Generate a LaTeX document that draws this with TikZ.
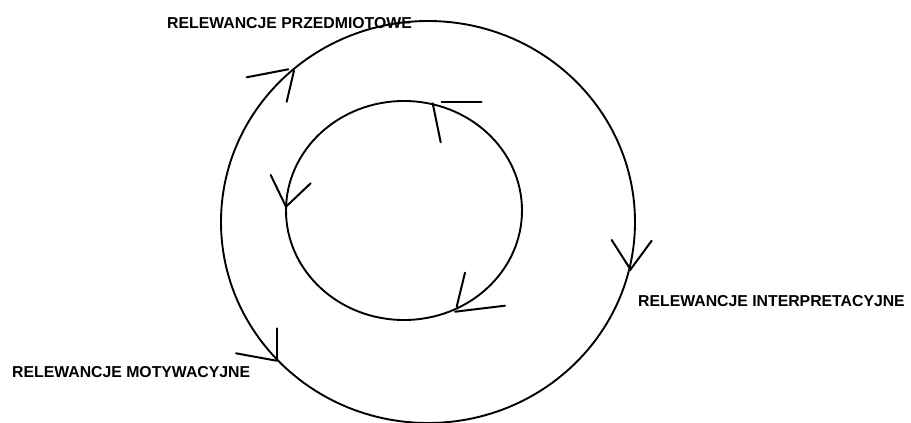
\documentclass[tikz,border=0pt]{standalone}
\usepackage{fontspec}
\setmainfont{Liberation Sans}
\begin{document}
\begin{tikzpicture}[x=1pt,y=-1pt,
  ring/.style={line width=1.9pt},
  barb/.style={line width=2pt, line cap=round},
  label/.style={font=\fontsize{15.8}{19}\selectfont\bfseries, inner sep=0pt, anchor=base west}]
  \useasboundingbox (0,0) rectangle (911,423);

  % outer and inner cycles
  \draw[ring] (428,222) ellipse [x radius=207, y radius=201];
  \draw[ring] (404,210.5) ellipse [x radius=118, y radius=109.5];

  % open arrowheads on the outer cycle
  \draw[barb] (246.7,77.3) -- (288.3,69.3);
  \draw[barb] (286.7,101.7) -- (294,70.7);
  \draw[barb] (611.7,240) -- (630.5,269.5) -- (651.7,240.7);
  \draw[barb] (276.7,328.3) -- (276.7,360.5);
  \draw[barb] (236,353.3) -- (276.5,360.7);

  % open arrowheads on the inner cycle
  \draw[barb] (441.7,101.7) -- (481.7,101.7);
  \draw[barb] (432.7,103.3) -- (440.7,142.3);
  \draw[barb] (270.7,175) -- (286,206.7) -- (310.7,183.3);
  \draw[barb] (465,272.7) -- (456.7,306.7);
  \draw[barb] (505,305.7) -- (455,311.7);

  % labels
  \node[label] (przedm) at (167,28.3) {RELEWANCJE PRZEDMIOTOWE};
  \node[label] (interp) at (638,306) {RELEWANCJE INTERPRETACYJNE};
  \node[label] (motyw) at (12,377) {RELEWANCJE MOTYWACYJNE};
\end{tikzpicture}
\end{document}
